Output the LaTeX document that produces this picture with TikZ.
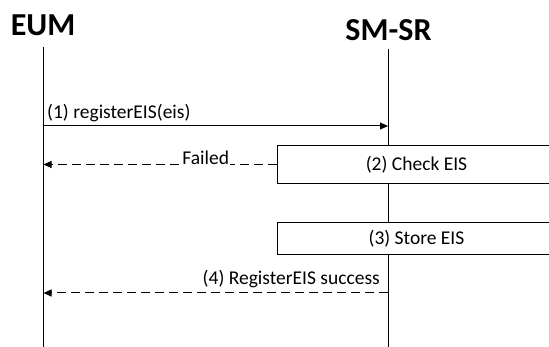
\documentclass[tikz,border=0pt]{standalone}
\usepackage{fontspec}
\setmainfont{Carlito}
\usetikzlibrary{calc,arrows.meta}

\begin{document}
\begin{tikzpicture}[x=1pt,y=-1pt,
	msg/.style={line width=1pt,-{Triangle[length=8pt,width=7pt]}},
	ret/.style={msg,dash pattern=on 9pt off 5pt},
	lbl/.style={inner sep=1pt,font=\fontsize{19.5}{23}\selectfont},
	actbox/.style={draw,line width=1pt,fill=white,minimum width=279pt,inner sep=0pt,font=\fontsize{19.5}{23}\selectfont},
	title/.style={anchor=base,inner sep=0pt,font=\bfseries\fontsize{32}{38}\selectfont}]
			\useasboundingbox (0,0) rectangle (549,347);
			
			% lifelines
			\node[title] (eumtitle) at (43,36) {EUM};
			\node[title] (smsrtitle) at (388.5,41) {SM-SR};
			\coordinate (eum) at (43.5,47);
			\coordinate (smsr) at (388,49);
			\coordinate (eumend) at (43.5,347);
			\coordinate (smsrend) at (388,347);
			\draw[line width=1pt] (eum) -- (eumend);
			\draw[line width=1pt] (smsr) -- (smsrend);
			
			% (1) request
			\coordinate (m1a) at (43.5,126);
			\coordinate (m1b) at (388,126);
			\draw[msg] (m1a) -- (m1b);
			\node[lbl,anchor=base west] (m1lbl) at (46,119) {(1) registerEIS(eis)};
			
			% (2) and (3)
			\node[actbox,minimum height=38.5pt] (check) at (416.5,164.5) {(2) Check EIS};
			\node[actbox,minimum height=32.5pt] (store) at (416.5,238.5) {(3) Store EIS};
			\coordinate (m2b) at (43.5,164.5);
			\draw[ret] (check.west) -- (m2b) node[lbl,pos=0.304,anchor=base,fill=white] (failed) {Failed};
			
			% (4) answer
			\coordinate (m4a) at (388,293);
			\coordinate (m4b) at (43.5,293);
			\draw[ret] (m4a) -- (m4b);
			\node[lbl,anchor=base east] (m4lbl) at (381,285) {(4) RegisterEIS success};
		\end{tikzpicture}
\end{document}
